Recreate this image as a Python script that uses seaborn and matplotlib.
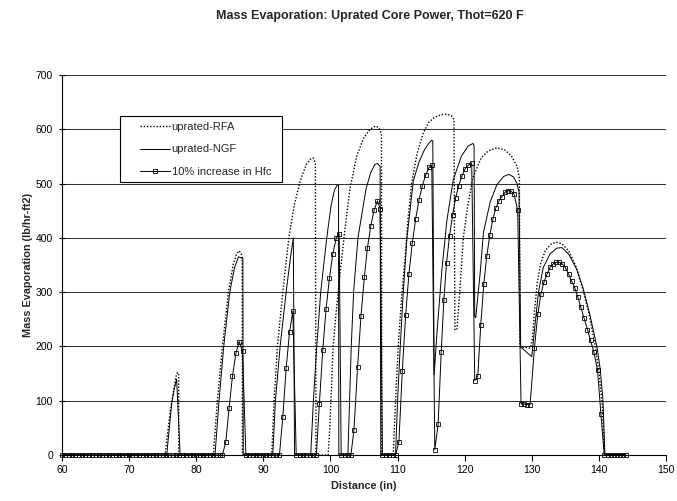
import matplotlib
matplotlib.use("Agg")
import matplotlib.pyplot as plt
from matplotlib.patches import Rectangle
import seaborn as sns

TITLE = "Mass Evaporation: Uprated Core Power, Thot=620 F"
X_LABEL = "Distance (in)"
Y_LABEL = "Mass Evaporation (lb/hr-ft2)"
X_TICKS = [60, 70, 80, 90, 100, 110, 120, 130, 140, 150]
Y_TICKS = [0, 100, 200, 300, 400, 500, 600, 700]

# uprated-RFA (dotted)
rfa_x = [60.0, 75.35, 76.1, 76.6, 77.0, 77.2, 77.38, 77.42,
         82.55, 83.15, 83.9, 84.8, 85.5, 86.0, 86.35, 86.7, 86.85, 86.9,
         91.25, 91.6, 92.1, 92.9, 93.8, 94.6, 95.5, 96.4, 97.0, 97.45, 97.75, 97.85,
         99.65, 99.9, 100.4, 100.9, 101.4, 102.2, 102.9, 103.9, 104.9, 105.9, 106.7, 107.2, 107.6, 107.65,
         109.35, 109.7, 110.1, 110.6, 111.1, 111.6, 112.1, 112.9, 113.8, 114.6, 115.5, 116.5, 117.3, 118.0, 118.4, 118.55,
         118.85, 119.3, 119.8, 120.4, 121.2, 121.8, 122.5, 123.5, 124.8, 126.0, 127.0, 127.8, 128.15, 128.25,
         129.0, 129.8, 130.1, 130.4, 130.8, 131.3, 132.0, 132.8, 133.6, 134.5, 135.5, 136.5, 137.5, 138.5,
         139.4, 140.0, 140.5, 140.85, 144.0]
rfa_y = [0, 0, 77, 117, 145, 152, 150, 0,
         0, 100, 200, 300, 350, 370, 376, 372, 362, 0,
         0, 100, 200, 300, 400, 460, 505, 535, 545, 547, 538, 0,
         0, 50, 200, 270, 330, 420, 490, 550, 583, 600, 606, 603, 592, 0,
         0, 100, 200, 290, 360, 440, 500, 555, 592, 612, 622, 627, 628, 625, 618, 230,
         232, 305, 400, 455, 510, 528, 548, 560, 566, 562, 550, 532, 512, 199,
         198, 197, 215, 265, 315, 352, 376, 388, 392, 389, 376, 350, 310, 262,
         205, 155, 90, 0, 0]

# uprated-NGF (solid)
ngf_x = [60.0, 75.6, 76.35, 76.7, 77.08, 77.6,
         82.8, 83.4, 84.1, 85.0, 85.7, 86.3, 86.95, 87.0,
         91.4, 91.8, 92.5, 93.4, 94.0, 94.47, 94.65,
         97.06, 97.46, 97.96, 98.55, 99.45, 100.1, 100.6, 101.0, 101.2, 101.25,
         102.6, 102.85, 103.1, 103.45, 104.1, 105.3, 106.0, 106.6, 107.0, 107.4, 107.5,
         109.7, 110.0, 110.4, 110.85, 111.4, 112.35, 113.2, 114.0, 114.7, 115.1, 115.25, 115.45,
         115.9, 116.6, 117.35, 118.3, 119.5, 120.5, 121.25, 121.4, 121.5, 121.65,
         122.3, 122.8, 123.8, 124.8, 125.8, 126.6, 127.3, 127.8, 128.1, 128.35,
         130.0, 130.5, 131.0, 131.7, 132.7, 133.7, 134.5, 135.5, 136.7, 137.7, 138.7,
         139.7, 140.2, 140.6, 140.9, 144.0]
ngf_y = [0, 0, 95, 120, 140, 0,
         0, 100, 200, 300, 345, 365, 362, 0,
         0, 100, 200, 300, 360, 400, 0,
         0, 100, 200, 300, 400, 460, 488, 497, 497, 0,
         0, 100, 200, 300, 400, 490, 520, 535, 537, 532, 0,
         0, 100, 200, 300, 400, 505, 540, 562, 575, 580, 578, 148,
         230, 340, 432, 507, 550, 569, 574, 570, 255, 253,
         334, 410, 466, 498, 513, 517, 512, 500, 485, 199,
         181, 242, 300, 345, 370, 381, 382, 370, 342, 305, 256,
         200, 158, 102, 0, 0]

# 10% increase in Hfc (squares)
hfc_x = [60.0, 60.5, 61.0, 61.5, 62.0, 62.5, 63.0, 63.5, 64.0, 64.5,
         65.0, 65.5, 66.0, 66.5, 67.0, 67.5, 68.0, 68.5, 69.0, 69.5,
         70.0, 70.5, 71.0, 71.5, 72.0, 72.5, 73.0, 73.5, 74.0, 74.5,
         75.0, 75.5, 76.0, 76.5, 77.0, 77.5, 78.0, 78.5, 79.0, 79.5,
         80.0, 80.5, 81.0, 81.5, 82.0, 82.5, 83.0, 83.5, 83.9,
         84.4, 84.9, 85.4, 85.9, 86.4, 86.9,
         87.4, 87.9, 88.4, 88.9, 89.4, 89.9, 90.4, 90.9, 91.4, 91.9, 92.4,
         92.9, 93.4, 93.9, 94.4,
         94.9, 95.4, 95.9, 96.4, 96.9, 97.4, 97.9,
         98.35, 98.85, 99.35, 99.85, 100.35, 100.85, 101.3,
         101.6, 102.1, 102.6, 103.05,
         103.5, 104.05, 104.55, 105.05, 105.5, 106.0, 106.5, 107.0, 107.4,
         107.75, 108.25, 108.75, 109.25, 109.7,
         110.2, 110.7, 111.2, 111.7, 112.2, 112.7, 113.2, 113.7, 114.2, 114.7, 115.1,
         115.55, 116.05, 116.5, 116.9, 117.3, 117.75, 118.2, 118.65, 119.1, 119.6, 120.05, 120.55, 121.05,
         121.5, 121.95,
         122.4, 122.85, 123.3, 123.75, 124.2, 124.65, 125.1, 125.55, 126.0, 126.45, 126.9, 127.35, 127.9,
         128.4, 128.85, 129.3, 129.75,
         130.4, 130.9, 131.35, 131.8, 132.3, 132.75, 133.2, 133.65, 134.1, 134.55, 135.0,
         135.5, 135.95, 136.4, 136.85, 137.3, 137.8, 138.3, 138.75, 139.25, 139.8, 140.3,
         140.8, 141.3, 141.75, 142.2, 142.65, 143.1, 143.55, 144.0]
hfc_y = [0, 0, 0, 0, 0, 0, 0, 0, 0, 0,
         0, 0, 0, 0, 0, 0, 0, 0, 0, 0,
         0, 0, 0, 0, 0, 0, 0, 0, 0, 0,
         0, 0, 0, 0, 0, 0, 0, 0, 0, 0,
         0, 0, 0, 0, 0, 0, 0, 0, 0,
         24, 87, 145, 187, 209, 191,
         0, 0, 0, 0, 0, 0, 0, 0, 0, 0, 0,
         70, 160, 226, 265,
         0, 0, 0, 0, 0, 0, 0,
         94, 193, 269, 326, 370, 399, 407,
         0, 0, 0, 0,
         46, 163, 256, 327, 381, 421, 451, 468, 454,
         0, 0, 0, 0, 0,
         24, 154, 257, 334, 391, 435, 470, 496, 516, 530, 534,
         10, 57, 189, 285, 354, 404, 442, 473, 496, 514, 527, 534, 538,
         137, 145,
         240, 315, 367, 405, 434, 455, 468, 476, 484, 487, 486, 481, 451,
         94, 94, 93, 93,
         198, 259, 296, 318, 334, 346, 352, 355, 355, 352, 345,
         333, 320, 308, 291, 272, 252, 231, 211, 190, 156, 75,
         0, 0, 0, 0, 0, 0, 0, 0]

sns.set_style("white")
plt.rcParams['font.family'] = ['Liberation Sans', 'DejaVu Sans']

W, H = 677, 501
fig = plt.figure(figsize=(W / 100, H / 100), dpi=100)
ax = fig.add_axes([62 / W, 46 / H, 604 / W, 380 / H])

sns.lineplot(x=rfa_x, y=rfa_y, ax=ax, sort=False, estimator=None, color='black',
             lw=1.0, linestyle=(0, (1.0, 1.3)), label='uprated-RFA')
sns.lineplot(x=ngf_x, y=ngf_y, ax=ax, sort=False, estimator=None, color='black',
             lw=0.7, label='uprated-NGF')
sns.lineplot(x=hfc_x, y=hfc_y, ax=ax, sort=False, estimator=None, color='black',
             lw=0.7, marker='s', markersize=3.3, markerfacecolor='none',
             markeredgecolor='black', markeredgewidth=0.6, clip_on=False,
             label='10% increase in Hfc')

ax.set_xlim(60, 150)
ax.set_ylim(0, 700)
ax.set_xticks(X_TICKS)
ax.set_yticks(Y_TICKS)
ax.set_xlabel('')
ax.set_ylabel('')
ax.yaxis.grid(True, color='#333333', lw=0.75)
ax.xaxis.grid(False)
ax.set_axisbelow(True)
for s in ['top', 'right']:
    ax.spines[s].set_visible(False)
for s in ['left', 'bottom']:
    ax.spines[s].set_color('black')
    ax.spines[s].set_linewidth(0.8)
ax.tick_params(axis='x', direction='out', length=4, width=0.8, pad=3,
               labelsize=7.5, colors='black', bottom=True)
ax.tick_params(axis='y', direction='inout', length=5, width=0.8, pad=4,
               labelsize=7.5, colors='black', left=True)

handles, labels = ax.get_legend_handles_labels()
ax.get_legend().remove()

box = Rectangle((120 / W, 1 - 182 / H), (282 - 120) / W, (182 - 116) / H,
                transform=fig.transFigure, facecolor='white', edgecolor='black',
                lw=0.8, zorder=5)
fig.add_artist(box)
leg = fig.legend(handles, labels, loc='upper left',
                 bbox_to_anchor=(140 / W, 1 - 122 / H), frameon=False,
                 fontsize=8, handlelength=2.7, handletextpad=0.15,
                 labelspacing=1.12, borderpad=0, borderaxespad=0)
leg.set_zorder(6)

fig.text(370 / W, 1 - 16 / H, TITLE, ha='center', va='center',
         fontsize=9, fontweight='bold')
fig.text(364 / W, 1 - 486 / H, X_LABEL, ha='center', va='center',
         fontsize=7.8, fontweight='bold')
fig.text(28 / W, 1 - 265 / H, Y_LABEL, ha='center', va='center',
         rotation=90, fontsize=7.8, fontweight='bold')

fig.savefig('out.png', dpi=100)
